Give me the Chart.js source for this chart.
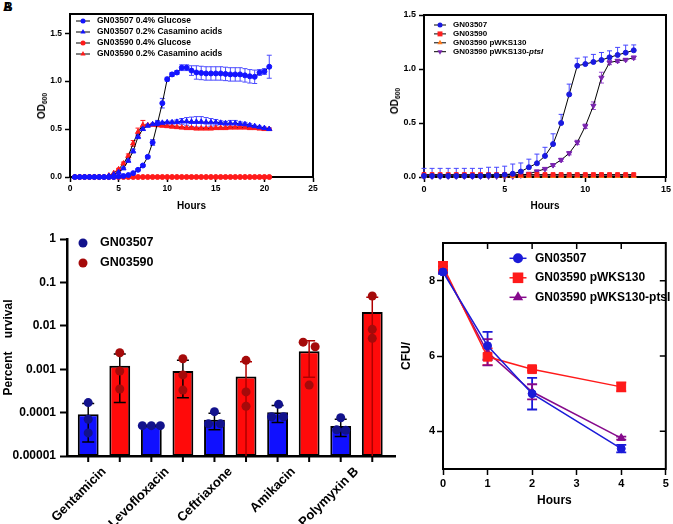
<!DOCTYPE html>
<html>
<head>
<meta charset="utf-8">
<script src="https://cdn.jsdelivr.net/npm/chart.js@4.4.1/dist/chart.umd.min.js"></script>
<style>
  html, body { margin:0; padding:0; background:#fff; }
  body { width:673px; height:524px; position:relative; overflow:hidden; font-family:"Liberation Sans", Arial, sans-serif; }
  .panel { position:absolute; }
  .panel canvas { display:block; }
  .vlab { position:absolute; font-weight:bold; color:#000; white-space:nowrap; transform:translate(-50%,-50%) rotate(-90deg); line-height:1; }
  .vlab sub { font-size:0.68em; vertical-align:-0.3em; line-height:0; }
  .plab { position:absolute; font-weight:bold; font-size:12px; line-height:1; color:#000; }
</style>
</head>
<body>
<div class="plab" style="left:3px;top:1px">A</div>
<div class="plab" style="left:4px;top:1px">B</div>
<div class="panel" style="left:0;top:0;width:336px;height:218px"><canvas id="chartA"></canvas></div>
<div class="panel" style="left:336px;top:0;width:337px;height:218px"><canvas id="chartB"></canvas></div>
<div class="panel" style="left:0;top:220px;width:400px;height:304px"><canvas id="chartC"></canvas></div>
<div class="panel" style="left:336px;top:220px;width:337px;height:304px"><canvas id="chartD"></canvas></div>
<div class="vlab" style="left:42px;top:106px;font-size:10px">OD<sub>600</sub></div>
<div class="vlab" style="left:395px;top:101px;font-size:10px">OD<sub>600</sub></div>
<script>
// ================= DATA =================
// Panel A: growth curves (OD600 vs hours)
const timeA = [0.5,1,1.5,2,2.5,3,3.5,4,4.5,5,5.5,6,6.5,7,7.5,8,8.5,9,9.5,10,10.5,11,11.5,12,12.5,13,13.5,14,14.5,15,15.5,16,16.5,17,17.5,18,18.5,19,19.5,20,20.5];
const seriesA = ['GN03507 0.4% Glucose','GN03507 0.2% Casamino acids','GN03590 0.4% Glucose','GN03590 0.2% Casamino acids'];
const glucoseWT = [0,0,0,0,0,0,0,0,0,0.005, 0.01,0.02,0.04,0.075,0.12,0.21,0.36,0.56,0.77,1.02, 1.07,1.09,1.14,1.14,1.11,1.09,1.085,1.08,1.08,1.08, 1.08,1.075,1.07,1.07,1.07,1.06,1.05,1.045,1.09,1.1, 1.15];
const glucoseWTErr = [0,0,0,0,0,0,0,0,0,0, 0,0,0,0.01,0.01,0.015,0.03,0.03,0.05,0.02, 0.02,0.02,0.03,0.03,0.05,0.07,0.07,0.07,0.07,0.07, 0.07,0.07,0.07,0.07,0.07,0.07,0.07,0.07,0.03,0.03, 0.12];
const casaminoWT = [0,0,0,0,0,0,0,0.01,0.025,0.05, 0.09,0.17,0.27,0.42,0.5,0.535,0.55,0.56,0.565,0.57, 0.57,0.575,0.58,0.58,0.575,0.575,0.575,0.57,0.57,0.57, 0.565,0.56,0.56,0.56,0.555,0.55,0.54,0.53,0.52,0.51, 0.5];
const casaminoWTErr = [0,0,0,0,0,0,0,0,0,0.005, 0.01,0.015,0.02,0.02,0.015,0.01,0.01,0.01,0.01,0.01, 0.015,0.02,0.03,0.04,0.05,0.055,0.055,0.05,0.04,0.03, 0.02,0.02,0.03,0.03,0.02,0.02,0.015,0.01,0.01,0.01, 0.01];
const glucoseMut = [0,0,0,0,0,0,0,0,0,0, 0,0,0,0,0,0,0,0,0,0, 0,0,0,0,0,0,0,0,0,0, 0,0,0,0,0,0,0,0,0,0, 0];
const casaminoMut = [0,0,0,0,0,0,0,0.015,0.04,0.08, 0.14,0.22,0.35,0.47,0.54,0.54,0.545,0.54,0.535,0.53, 0.525,0.52,0.515,0.51,0.51,0.505,0.505,0.505,0.505,0.51, 0.51,0.51,0.515,0.515,0.515,0.515,0.51,0.51,0.505,0.5, 0.5];
const casaminoMutErr = [0,0,0,0,0,0,0,0,0,0.01, 0.015,0.02,0.03,0.04,0.05,0.01,0.01,0.01,0.01,0.01, 0.01,0.01,0.01,0.01,0.01,0.01,0.01,0.01,0.01,0.01, 0.01,0.01,0.01,0.01,0.01,0.01,0.01,0.01,0.01,0.01, 0.01];
const yTicksA = [0, 0.5, 1.0, 1.5];

// Panel B: complementation growth curves
const timeB = [0,0.5,1,1.5,2,2.5,3,3.5,4,4.5,5,5.5,6,6.5,7,7.5,8,8.5,9,9.5,10,10.5,11,11.5,12,12.5,13];
const seriesB = ['GN03507','GN03590','GN03590 pWKS130','GN03590 pWKS130-ptsI'];
const wtB = [0.01,0.01,0.01,0.01,0.01,0.01,0.01,0.01,0.015,0.015, 0.02,0.03,0.05,0.09,0.127,0.195,0.305,0.5,0.765,1.03, 1.046,1.065,1.083,1.108,1.13,1.151,1.173];
const wtBErr = [0.07,0.07,0.07,0.07,0.07,0.07,0.07,0.07,0.075,0.075, 0.08,0.09,0.08,0.075,0.085,0.08,0.095,0.08,0.095,0.07, 0.065,0.07,0.07,0.06,0.07,0.07,0.05];
const mutB = [0.022,0.022,0.022,0.022,0.022,0.022,0.022,0.022,0.022,0.022, 0.022,0.022,0.022,0.022,0.022,0.022,0.022,0.022,0.022,0.022, 0.022,0.022,0.022,0.022,0.022,0.022,0.022];
const pwksB = [0.01,0.01,0.01,0.01,0.01,0.01,0.01,0.01,0.01,0.01, 0.01,0.01,0.01,0.01,0.01,0.01,0.01,0.01,0.01,0.01, 0.01,0.01,0.01,0.01,0.01,0.01,0.01];
const ptsIB = [0.005,0.005,0.005,0.005,0.005,0.005,0.005,0.005,0.005,0.005, 0.005,0.005,0.015,0.03,0.052,0.075,0.11,0.158,0.22,0.32, 0.47,0.66,0.92,1.06,1.075,1.085,1.105];
const ptsIBErr = [0.003,0.003,0.003,0.003,0.003,0.003,0.003,0.003,0.003,0.003, 0.003,0.003,0.005,0.008,0.01,0.01,0.012,0.015,0.015,0.02, 0.02,0.035,0.05,0.02,0.015,0.01,0.015];
const yTicksB = [0, 0.5, 1.0, 1.5];

// Panel C: antibiotic survival
const antibiotics = ['Gentamicin','Levofloxacin','Ceftriaxone','Amikacin','Polymyxin B'];
const seriesC = ['GN03507','GN03590'];
const survivalWT = [9.2e-5, 5.0e-5, 6.8e-5, 1.02e-4, 4.9e-5];
const survivalWTSD = [7.1e-5, 1e-6, 2.8e-5, 4.3e-5, 2.1e-5];
const survivalWTReps = [[1.7e-4,7e-5,3.4e-5],[5e-5,5e-5,5e-5],[1.05e-4,5.5e-5,5.5e-5],[1.55e-4,8e-5,8e-5],[7.6e-5,4e-5,3.9e-5]];
const survivalMut = [1.2e-3, 9.1e-4, 6.8e-4, 2.6e-3, 2.07e-2];
const survivalMutSD = [1.03e-3, 6.9e-4, 8e-4, 1.95e-3, 2.45e-2];
const survivalMutReps = [[2.4e-3,9.1e-4,3.5e-4],[1.74e-3,7.4e-4,3.3e-4],[1.6e-3,3.0e-4,1.4e-4],[4.2e-3,3.3e-3,4.3e-4],[4.86e-2,8.3e-3,5.15e-3]];
const yTicksC = [0.00001, 0.0001, 0.001, 0.01, 0.1, 1];
const yTickLabelsC = ['0.00001','0.0001','0.001','0.01','0.1','1'];

// Panel D: killing kinetics
const timeD = [0, 1, 2, 4];
const seriesD = ['GN03507','GN03590 pWKS130','GN03590 pWKS130-ptsI'];
const cfuWT = [8.23, 6.27, 5.0, 3.54];
const cfuWTErr = [0.05, 0.37, 0.42, 0.1];
const cfuPW = [8.38, 5.98, 5.65, 5.18];
const cfuPWErr = [0.12, 0.22, 0.04, 0.12];
const cfuPts = [8.3, 6.1, 5.05, 3.82];
const cfuPtsErr = [0.08, 0.35, 0.2, 0.04];
const yTicksD = [4, 6, 8];

// ================= STYLE =================
const FONT = "'Liberation Sans', Arial, Helvetica, sans-serif";
Chart.defaults.font.family = FONT;
Chart.defaults.font.weight = 'bold';
Chart.defaults.color = '#000';
Chart.defaults.animation = false;
Chart.defaults.plugins.legend.display = false;
Chart.defaults.plugins.tooltip.enabled = false;

// replicate-dot horizontal spread (pixels, purely visual)
const dotSpreadWT = [[0,0,0],[-9,0,9],[0,-6,6],[1,-6,6],[0,-4,5]];
const dotSpreadMut = [[0,0,0],[0,0,0],[0,0,0],[-6,6,0],[0,0,0]];

function drawMarker(ctx, style, r, x, y, rot) {
  ctx.beginPath();
  if (style === 'circle') {
    ctx.arc(x, y, r, 0, Math.PI * 2);
  } else if (style === 'rect') {
    const s = Math.SQRT1_2 * r;
    ctx.rect(x - s, y - s, 2 * s, 2 * s);
  } else if (style === 'triangle') {
    let rad = (rot || 0) * Math.PI / 180;
    for (let k = 0; k < 3; k++) {
      const px = x + Math.sin(rad) * r, py = y - Math.cos(rad) * r;
      if (k === 0) ctx.moveTo(px, py); else ctx.lineTo(px, py);
      rad += 2 * Math.PI / 3;
    }
    ctx.closePath();
  }
  ctx.fill();
}

function drawErrorBars(chart) {
  const { ctx, chartArea } = chart;
  ctx.save();
  ctx.beginPath();
  ctx.rect(chartArea.left - 10, chartArea.top - 40, chartArea.width + 20, chartArea.height + 40);
  ctx.clip();
  chart.data.datasets.forEach((ds, di) => {
    if (!ds.errors) return;
    const meta = chart.getDatasetMeta(di);
    const ys = chart.scales[meta.yAxisID];
    const isLog = ys.type === 'logarithmic';
    ctx.lineWidth = ds.errorWidth || 1;
    meta.data.forEach((el, i) => {
      const e = ds.errors[i];
      if (!e) return;
      const raw = ds.data[i];
      const v = (typeof raw === 'object') ? raw.y : raw;
      const x = el.x;
      ctx.strokeStyle = Array.isArray(ds.errorColor) ? ds.errorColor[i] : ds.errorColor;
      const cw = ds.capHalf || 2.5;
      const hi = ys.getPixelForValue(v + e);
      const lowV = v - e;
      const lowOut = isLog && lowV <= 0;
      const lo = ds.errorUpOnly ? ys.getPixelForValue(v) : (lowOut ? chartArea.bottom + 5 : ys.getPixelForValue(lowV));
      ctx.beginPath();
      ctx.moveTo(x, hi); ctx.lineTo(x, lo);
      ctx.moveTo(x - cw, hi); ctx.lineTo(x + cw, hi);
      if (!ds.errorUpOnly && !lowOut) { ctx.moveTo(x - cw, lo); ctx.lineTo(x + cw, lo); }
      ctx.stroke();
    });
  });
  ctx.restore();
}
const errorUnder = { id: 'errorUnder', beforeDatasetsDraw(chart) { drawErrorBars(chart); } };
const errorOver = { id: 'errorOver', afterDatasetsDraw(chart) { drawErrorBars(chart); } };

const repDots = {
  id: 'repDots',
  afterDatasetsDraw(chart) {
    const ctx = chart.ctx, ys = chart.scales.y;
    ctx.save();
    chart.data.datasets.forEach((ds, di) => {
      if (!ds.reps) return;
      const meta = chart.getDatasetMeta(di);
      ctx.fillStyle = ds.dotColor;
      meta.data.forEach((el, i) => {
        ds.reps[i].forEach((v, k) => {
          const dx = ds.dotSpread ? ds.dotSpread[i][k] : 0;
          ctx.beginPath();
          ctx.arc(el.x + dx, ys.getPixelForValue(v), ds.dotRadius, 0, Math.PI * 2);
          ctx.fill();
        });
      });
    });
    ctx.restore();
  }
};

const barTicks = {
  id: 'barTicks',
  afterDraw(chart) {
    const ctx = chart.ctx, a = chart.chartArea;
    ctx.save();
    ctx.strokeStyle = '#000'; ctx.lineWidth = 2;
    ctx.beginPath();
    chart.data.datasets.forEach((ds, di) => {
      chart.getDatasetMeta(di).data.forEach(el => { ctx.moveTo(el.x, a.bottom); ctx.lineTo(el.x, a.bottom + 6); });
    });
    ctx.stroke();
    ctx.restore();
  }
};

const frame = {
  id: 'frame',
  afterDraw(chart, args, opts) {
    if (!opts || !opts.display) return;
    const { ctx, chartArea: a } = chart;
    ctx.save();
    ctx.strokeStyle = '#000'; ctx.lineWidth = opts.width; ctx.lineCap = 'square';
    ctx.beginPath();
    ctx.moveTo(a.left, a.top); ctx.lineTo(a.right, a.top); ctx.lineTo(a.right, a.bottom);
    ctx.stroke();
    if (opts.innerTicks) {
      ctx.lineCap = 'butt';
      ctx.lineWidth = opts.tickWidth;
      const xs = chart.scales.x, ys = chart.scales.y;
      ctx.beginPath();
      xs.ticks.forEach(t => { const px = xs.getPixelForValue(t.value); if (px > a.left + 2 && px < a.right - 2) { ctx.moveTo(px, a.top); ctx.lineTo(px, a.top + opts.tickLen); } });
      ys.ticks.forEach(t => { const py = ys.getPixelForValue(t.value); ctx.moveTo(a.right, py); ctx.lineTo(a.right - opts.tickLen, py); });
      ctx.stroke();
    }
    ctx.restore();
  }
};

const insetLegend = {
  id: 'insetLegend',
  afterDraw(chart, args, opts) {
    if (!opts || !opts.display) return;
    const ctx = chart.ctx;
    ctx.save();
    chart.data.datasets.forEach((ds, i) => {
      const y = opts.y + i * opts.dy;
      const x = opts.x;
      const col = ds.legendColor;
      if (opts.lineHalf) {
        ctx.strokeStyle = opts.lineColor || col;
        ctx.lineWidth = opts.lineWidth;
        ctx.beginPath(); ctx.moveTo(x - opts.lineHalf, y); ctx.lineTo(x + opts.lineHalf, y); ctx.stroke();
      }
      ctx.fillStyle = col;
      drawMarker(ctx, ds.legendStyle || 'circle', ds.legendRadius, x, y, ds.pointRotation || 0);
      ctx.fillStyle = '#000';
      ctx.textBaseline = 'middle'; ctx.textAlign = 'left';
      ctx.font = 'bold ' + opts.fontSize + 'px ' + FONT;
      const label = ds.label;
      if (ds.legendItalic && label.endsWith(ds.legendItalic)) {
        const main = label.slice(0, label.length - ds.legendItalic.length);
        ctx.fillText(main, opts.textX, y);
        const w = ctx.measureText(main).width;
        ctx.font = 'italic bold ' + opts.fontSize + 'px ' + FONT;
        ctx.fillText(ds.legendItalic, opts.textX + w, y);
      } else {
        ctx.fillText(label, opts.textX, y);
      }
    });
    ctx.restore();
  }
};

function axis(o) {
  return {
    type: o.type || 'linear',
    min: o.min, max: o.max,
    offset: false,
    grid: { display: true, drawOnChartArea: false, drawTicks: o.tickLen > 0, tickLength: o.tickLen, tickWidth: o.tickWidth || 1.5, tickColor: '#000', color: '#000', offset: false },
    border: { display: true, color: '#000', width: o.borderWidth || 2 },
    ticks: Object.assign({ font: { size: o.fontSize, weight: 'bold', family: FONT }, color: '#000', padding: (o.pad !== undefined ? o.pad : 3), maxRotation: 0, minRotation: 0, autoSkip: false }, o.ticks || {}),
    title: o.title ? { display: true, text: o.title, color: '#000', font: { size: o.titleSize, weight: 'bold', family: FONT }, padding: o.titlePad } : { display: false },
    afterFit: o.afterFit,
    afterBuildTicks: o.afterBuildTicks
  };
}

function lineSet(label, xs, ys, errs, color, style, extra) {
  return Object.assign({
    label,
    data: xs.map((x, i) => ({ x, y: ys[i] })),
    errors: errs,
    errorColor: color,
    borderColor: '#000',
    borderWidth: 1,
    pointStyle: style,
    pointRadius: 2.5,
    pointBackgroundColor: color,
    pointBorderColor: color,
    pointBorderWidth: 1,
    pointHoverRadius: 0,
    tension: 0,
    fill: false,
    clip: false,
    legendColor: color,
    legendStyle: style,
    legendRadius: 2.5
  }, extra || {});
}

// ================= PANEL A =================
const blueA = '#1414ff', redA = '#ff1a1a';
new Chart(document.getElementById('chartA'), {
  type: 'line',
  data: { datasets: [
    lineSet(seriesA[0], timeA, glucoseWT, glucoseWTErr, blueA, 'circle', { errorColor: '#4a4aff' }),
    lineSet(seriesA[1], timeA, casaminoWT, casaminoWTErr, blueA, 'triangle', { pointRadius: 3, legendRadius: 3, errorColor: '#4a4aff' }),
    lineSet(seriesA[2], timeA, glucoseMut, null, redA, 'circle'),
    lineSet(seriesA[3], timeA, casaminoMut, casaminoMutErr, redA, 'triangle', { pointRadius: 3, legendRadius: 3 })
  ]},
  options: {
    responsive: true, maintainAspectRatio: false, devicePixelRatio: 1,
    layout: { padding: { top: 14, right: 23, left: 0, bottom: 0 } },
    scales: {
      x: axis({ min: 0, max: 25, tickLen: 5, fontSize: 8.5, pad: 2, ticks: { stepSize: 5 }, title: 'Hours', titleSize: 10, titlePad: { top: 0, bottom: 6 }, afterFit: s => { s.height = 41; } }),
      y: axis({ min: 0, max: 1.7, tickLen: 5, fontSize: 8.5, pad: 3, ticks: { callback: v => v.toFixed(1) }, afterBuildTicks: s => { s.ticks = yTicksA.map(v => ({ value: v })); }, afterFit: s => { s.width = 70; } })
    },
    plugins: {
      frame: { display: true, width: 2 },
      insetLegend: { display: true, x: 83, y: 21, dy: 11, lineHalf: 7, lineColor: '#000', lineWidth: 1, textX: 97, fontSize: 8.5 }
    }
  },
  plugins: [errorUnder, frame, insetLegend]
});

// ================= PANEL B =================
const blueB = '#1a1ae0', redB = '#ff1f1f', orangeB = '#ff7a1a', purpleB = '#7a24b0';
new Chart(document.getElementById('chartB'), {
  type: 'line',
  data: { datasets: [
    lineSet(seriesB[0], timeB, wtB, wtBErr, blueB, 'circle', { errorUpOnly: true, errorColor: '#4646ff' }),
    lineSet(seriesB[1], timeB, mutB, null, redB, 'rect', { pointRadius: 2.8, legendRadius: 3.5 }),
    lineSet(seriesB[2], timeB, pwksB, null, orangeB, 'triangle', { pointRadius: 3, legendRadius: 3 }),
    lineSet(seriesB[3], timeB, ptsIB, ptsIBErr, purpleB, 'triangle', { pointRadius: 3, legendRadius: 3, pointRotation: 180, legendItalic: 'ptsI', errorColor: '#9a4ad0' })
  ]},
  options: {
    responsive: true, maintainAspectRatio: false, devicePixelRatio: 1,
    layout: { padding: { top: 15, right: 5, left: 0, bottom: 0 } },
    scales: {
      x: axis({ min: 0, max: 15, tickLen: 5, fontSize: 9, pad: 2, ticks: { stepSize: 5 }, title: 'Hours', titleSize: 10, titlePad: { top: 0, bottom: 6 }, afterFit: s => { s.height = 41; } }),
      y: axis({ min: 0, max: 1.5, tickLen: 5, fontSize: 9, pad: 3, ticks: { callback: v => v.toFixed(1) }, afterBuildTicks: s => { s.ticks = yTicksB.map(v => ({ value: v })); }, afterFit: s => { s.width = 88; } })
    },
    plugins: {
      frame: { display: true, width: 2 },
      insetLegend: { display: true, x: 104, y: 25, dy: 8.9, lineHalf: 6, lineColor: '#000', lineWidth: 1, textX: 117, fontSize: 8 }
    }
  },
  plugins: [errorUnder, frame, insetLegend]
});

// ================= PANEL C =================
const blueBar = '#1010ff', redBar = '#ff0a0a', navyDot = '#12128c', darkRedDot = '#a50a0a';
new Chart(document.getElementById('chartC'), {
  type: 'bar',
  data: { datasets: [
    { label: seriesC[0], data: antibiotics.map((a, i) => ({ x: i, y: survivalWT[i] })), backgroundColor: blueBar, borderColor: '#000', borderWidth: 2, borderSkipped: false,
      barPercentage: 0.66, categoryPercentage: 1.0,
      errors: survivalWTSD, errorColor: '#000', errorWidth: 1.5, capHalf: 6,
      reps: survivalWTReps, dotSpread: dotSpreadWT, dotColor: navyDot, dotRadius: 4.5,
      legendColor: navyDot, legendStyle: 'circle', legendRadius: 4.5 },
    { label: seriesC[1], data: antibiotics.map((a, i) => ({ x: i, y: survivalMut[i] })), backgroundColor: redBar, borderColor: '#000', borderWidth: 2, borderSkipped: false,
      barPercentage: 0.66, categoryPercentage: 1.0,
      errors: survivalMutSD, errorColor: ['#000', '#000', '#b00000', '#b00000', '#b00000'], errorWidth: 1.5, capHalf: 6,
      reps: survivalMutReps, dotSpread: dotSpreadMut, dotColor: darkRedDot, dotRadius: 4.5,
      legendColor: darkRedDot, legendStyle: 'circle', legendRadius: 4.5 }
  ]},
  options: {
    responsive: true, maintainAspectRatio: false, devicePixelRatio: 1,
    layout: { padding: { top: 19, right: 5, left: 0, bottom: 0 } },
    scales: {
      x: axis({ min: -0.586, max: 4.61, tickLen: 0, fontSize: 13, pad: 8, borderWidth: 2.5,
        ticks: { maxRotation: 45, minRotation: 45, callback: v => antibiotics[v] },
        afterBuildTicks: s => { s.ticks = antibiotics.map((a, i) => ({ value: i })); },
        afterFit: s => { s.height = 68; } }),
      y: Object.assign(axis({ type: 'logarithmic', min: 0.00001, max: 1, tickLen: 7, tickWidth: 2, fontSize: 12, pad: 4, borderWidth: 2.5,
        ticks: { callback: (v, i) => yTickLabelsC[i] },
        title: 'Percent    urvival', titleSize: 12, titlePad: { top: 1, bottom: 0 },
        afterBuildTicks: s => { s.ticks = yTicksC.map(v => ({ value: v })); },
        afterFit: s => { s.width = 67; } }))
    },
    plugins: {
      insetLegend: { display: true, x: 83, y: 23, dy: 20, lineHalf: 0, textX: 100, fontSize: 12.5 }
    }
  },
  plugins: [errorOver, repDots, barTicks, insetLegend]
});

// ================= PANEL D =================
const blueD = '#1a1ad8', redD = '#ff1a1a', purpleD = '#860a8c';
function cfuSet(label, ys, errs, color, style, r, lr, extra) {
  return lineSet(label, timeD, ys, errs, color, style, Object.assign({
    borderColor: color, borderWidth: 1.5, pointRadius: r, legendRadius: lr, errorWidth: 1.8, capHalf: 5
  }, extra || {}));
}
new Chart(document.getElementById('chartD'), {
  type: 'line',
  data: { datasets: [
    cfuSet(seriesD[0], cfuWT, cfuWTErr, blueD, 'circle', 4, 5),
    cfuSet(seriesD[1], cfuPW, cfuPWErr, redD, 'rect', 6.2, 7.5),
    cfuSet(seriesD[2], cfuPts, cfuPtsErr, purpleD, 'triangle', 4.5, 6)
  ]},
  options: {
    responsive: true, maintainAspectRatio: false, devicePixelRatio: 1,
    layout: { padding: { top: 23, right: 5, left: 0, bottom: 0 } },
    scales: {
      x: axis({ min: 0, max: 5, tickLen: 6, fontSize: 11, pad: 2, ticks: { stepSize: 1 }, title: 'Hours', titleSize: 12, titlePad: { top: 0, bottom: 16 }, afterFit: s => { s.height = 55; } }),
      y: axis({ min: 3, max: 9, tickLen: 6, fontSize: 11, pad: 2, title: 'CFU/', titleSize: 12, titlePad: { top: 63, bottom: 0 },
        afterBuildTicks: s => { s.ticks = yTicksD.map(v => ({ value: v })); }, afterFit: s => { s.width = 107; } })
    },
    plugins: {
      frame: { display: true, width: 2, innerTicks: true, tickLen: 6, tickWidth: 1.5 },
      insetLegend: { display: true, x: 182, y: 38.3, dy: 19.5, lineHalf: 8.5, lineWidth: 1.5, textX: 199, fontSize: 12 }
    }
  },
  plugins: [errorUnder, frame, insetLegend]
});
</script>
</body>
</html>
